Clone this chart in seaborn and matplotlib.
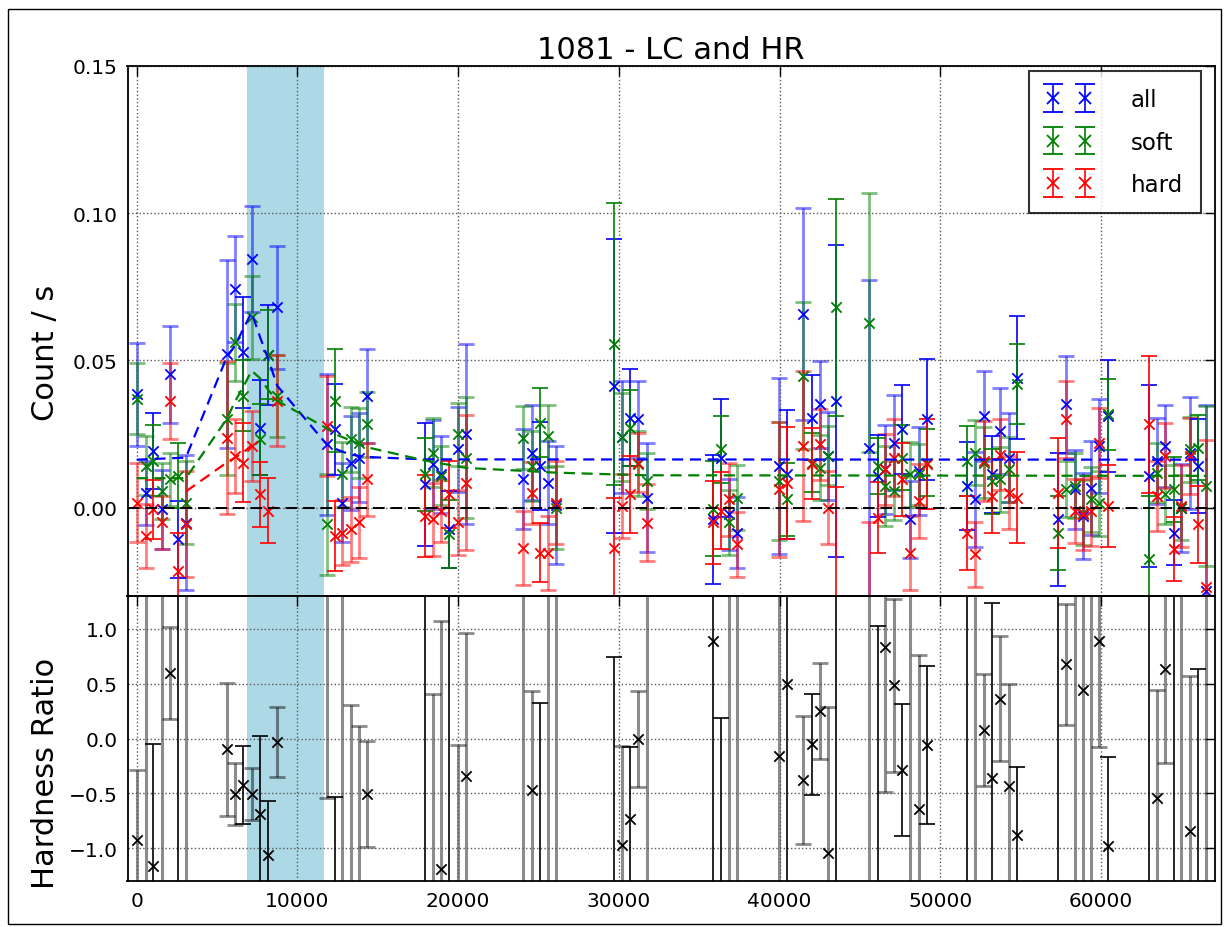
import numpy as np
import matplotlib
matplotlib.use("Agg")
import matplotlib.pyplot as plt
import seaborn as sns
from matplotlib.patches import Rectangle
from matplotlib.legend_handler import HandlerErrorbar

# ---------------- data ----------------
t = [0, 550, 1030, 1550, 2070, 2580, 3060,
     5595, 6112, 6630, 7150, 7670, 8185, 8745,
     11820, 12336, 12790, 13310, 13830, 14345,
     17940, 18416, 18934, 19450, 19970, 20490,
     24056, 24575, 25094, 25571, 26069,
     29720, 30177, 30695, 31213, 31773,
     35840, 36340, 36860, 37335,
     39930, 40450, 41480, 42000, 42480, 43000, 43520,
     45530, 46090, 46570, 47085, 47610, 48125, 48640, 49165,
     51650, 52170, 52690, 53210, 53720, 54240, 54765,
     57310, 57830, 58350, 58870, 59390, 59890, 60430,
     62960, 63480, 64000, 64510, 64990, 65510, 66030, 66550]

all_rate = [0.0385, 0.005, 0.0193, -0.0006, 0.0453, -0.0108, -0.0051,
            0.0522, 0.0743, 0.0527, 0.0845, 0.0272, 0.052, 0.068,
            0.0215, 0.0266, 0.0017, 0.0153, 0.017, 0.038,
            0.0079, 0.0147, 0.0113, -0.0074, 0.0198, 0.025,
            0.0096, 0.0187, 0.0142, 0.0085, 0.001,
            0.0414, 0.024, 0.0306, 0.030, 0.0034,
            -0.004, 0.017, -0.0023, -0.0085,
            0.0142, 0.0113, 0.0658, 0.0306, 0.0351, 0.0176, 0.0363,
            0.0203, 0.0108, 0.013, 0.0221, 0.0266, -0.004, 0.0125, 0.030,
            0.0074, 0.0028, 0.0312, 0.0113, 0.026, 0.017, 0.0442,
            -0.004, 0.0351, 0.0062, -0.0028, 0.0068, 0.021, 0.031,
            0.0108, 0.0159, 0.021, -0.0085, 0.0, 0.0187, 0.0142, -0.0283]
all_err = [0.0175, 0.011, 0.013, 0.0133, 0.0165, 0.013, 0.023,
           0.032, 0.018, 0.019, 0.018, 0.016, 0.017, 0.021,
           0.024, 0.0155, 0.0135, 0.016, 0.015, 0.016,
           0.021, 0.015, 0.013, 0.013, 0.0145, 0.0306,
           0.017, 0.016, 0.015, 0.014, 0.02,
           0.05, 0.019, 0.0165, 0.013, 0.0185,
           0.022, 0.02, 0.012, 0.012,
           0.03, 0.022, 0.036, 0.0144, 0.0147, 0.015, 0.053,
           0.057, 0.014, 0.015, 0.016, 0.015, 0.013, 0.015, 0.0205,
           0.015, 0.016, 0.0153, 0.013, 0.0145, 0.015, 0.021,
           0.0225, 0.0165, 0.0135, 0.0145, 0.016, 0.016, 0.019,
           0.031, 0.0145, 0.014, 0.011, 0.015, 0.019, 0.016, 0.063]

soft_rate = [0.037, 0.0142, 0.016, 0.0057, 0.0096, 0.0108, 0.0017,
             0.030, 0.0561, 0.038, 0.0646, 0.0232, 0.052, 0.038,
             -0.0057, 0.0363, 0.0113, 0.0232, 0.022, 0.0283,
             0.0113, 0.0187, 0.0108, -0.009, 0.025, 0.017,
             0.0238, 0.0142, 0.0289, 0.0244, 0.0,
             0.0556, 0.024, 0.027, 0.015, 0.009,
             -0.0003, 0.0198, -0.005, 0.0034,
             0.009, 0.0028, 0.0448, 0.0153, 0.0136, 0.0176, 0.068,
             0.0628, 0.0142, 0.0074, 0.0057, 0.017, 0.0113, 0.0113, 0.0153,
             0.0159, 0.0187, 0.0153, 0.009, 0.0096, 0.013, 0.042,
             -0.0085, 0.0062, 0.0074, -0.0017, 0.0028, 0.0015, 0.0317,
             -0.0176, 0.0119, 0.0045, 0.0062, 0.0, 0.0198, 0.0204, 0.0074]
soft_err = [0.012, 0.01, 0.012, 0.0096, 0.009, 0.011, 0.014,
            0.019, 0.013, 0.012, 0.014, 0.012, 0.015, 0.014,
            0.017, 0.0175, 0.011, 0.011, 0.012, 0.011,
            0.0125, 0.0116, 0.010, 0.0115, 0.0107, 0.0205,
            0.0107, 0.012, 0.0117, 0.0105, 0.014,
            0.048, 0.015, 0.013, 0.011, 0.0095,
            0.016, 0.0113, 0.011, 0.011,
            0.02, 0.0125, 0.025, 0.01, 0.011, 0.01, 0.037,
            0.044, 0.0095, 0.0135, 0.01, 0.011, 0.011, 0.0103, 0.0115,
            0.012, 0.011, 0.012, 0.011, 0.011, 0.011, 0.0135,
            0.0125, 0.0095, 0.011, 0.011, 0.011, 0.011, 0.012,
            0.0216, 0.01, 0.01, 0.011, 0.011, 0.011, 0.011, 0.0272]

hard_rate = [0.0017, -0.0096, -0.0006, -0.005, 0.0363, -0.0215, -0.0057,
             0.0238, 0.0176, 0.0153, 0.021, 0.0045, -0.001, 0.0363,
             0.0278, -0.0096, -0.0085, -0.0074, -0.005, 0.0096,
             -0.0028, -0.004, -0.0011, 0.0045, -0.005, 0.0085,
             -0.0136, 0.0051, -0.0153, -0.0153, 0.0017,
             -0.0136, 0.0006, 0.0045, 0.0153, -0.0051,
             -0.005, -0.001, 0.0028, -0.0125,
             0.0062, 0.0085, 0.021, 0.015, 0.0215, 0.0, -0.035,
             -0.045, -0.0034, 0.013, 0.017, 0.0096, -0.0153, 0.0023, 0.0147,
             -0.0085, -0.0159, 0.0159, 0.004, 0.018, 0.0051, 0.0034,
             0.0051, 0.030, -0.0011, -0.0023, -0.0011, 0.022, 0.0006,
             0.0283, 0.004, 0.0176, -0.014, 0.0006, 0.0176, -0.0057, -0.027]
hard_err = [0.0135, 0.011, 0.01, 0.009, 0.013, 0.013, 0.018,
            0.026, 0.0125, 0.0135, 0.012, 0.011, 0.011, 0.0155,
            0.017, 0.012, 0.011, 0.011, 0.012, 0.0125,
            0.014, 0.0125, 0.0105, 0.0113, 0.011, 0.023,
            0.0125, 0.0105, 0.010, 0.0125, 0.014,
            0.017, 0.011, 0.013, 0.01, 0.013,
            0.014, 0.013, 0.0125, 0.011,
            0.023, 0.019, 0.0255, 0.012, 0.012, 0.0125, 0.042,
            0.04, 0.012, 0.012, 0.013, 0.0125, 0.0125, 0.0125, 0.0153,
            0.0125, 0.011, 0.0135, 0.0125, 0.012, 0.0125, 0.0155,
            0.0187, 0.013, 0.011, 0.012, 0.012, 0.012, 0.014,
            0.0233, 0.012, 0.011, 0.011, 0.014, 0.013, 0.013, 0.05]

hr = [-0.924, -3, -1.167, -3, 0.597, -3, -3,
      -0.10, -0.506, -0.424, -0.506, -0.688, -1.067, -0.03,
      1.5, -1.72, -3, -1.94, -1.59, -0.506,
      -3, -1.43, -1.19, -3, -1.5, -0.342,
      -3, -0.47, -2.06, -3, 3,
      -1.65, -0.97, -0.73, -0.003, -3,
      0.888, -1.4, -3, -3,
      -0.158, 0.5, -0.379, -0.052, 0.252, -1.045, -3,
      -3, -1.39, 0.833, 0.485, -0.288, -3, -0.642, -0.06,
      -3, -3, 0.076, -0.364, 0.364, -0.433, -0.879,
      -3, 0.676, -3, 0.445, -3, 0.894, -0.985,
      -3, -0.545, 0.63, -3, -3, -0.848, -1.77, -3]
hr_err = [0.636, 9, 1.12, 9, 0.42, 9, 9,
          0.61, 0.28, 0.36, 0.24, 0.71, 0.5, 0.32,
          2.045, 1.19, 9, 2.25, 1.7, 0.48,
          9, 1.84, 2.26, 9, 1.44, 1.3,
          9, 0.9, 2.38, 9, 9,
          2.39, 0.906, 0.65, 0.44, 9,
          9, 1.59, 9, 9,
          9, 9, 0.58, 0.46, 0.44, 1.33, 9,
          9, 2.42, 1.32, 0.79, 0.6, 9, 1.4, 0.72,
          9, 9, 0.51, 1.6, 0.57, 0.93, 0.62,
          9, 0.55, 9, 9, 9, 0.976, 0.82,
          9, 0.985, 0.85, 9, 9, 1.415, 2.4, 9]

# 1 = strong (drawn dark), 0 = weak (drawn faint)
weight = [0, 0, 1, 0, 0, 1, 0,
          0, 0, 1, 0, 1, 1, 0,
          0, 1, 0, 0, 0, 0,
          1, 0, 0, 1, 0, 0,
          0, 0, 1, 0, 0,
          1, 0, 1, 0, 0,
          1, 1, 0, 0,
          0, 1, 0, 1, 0, 0, 1,
          0, 1, 0, 0, 1, 0, 0, 1,
          1, 0, 0, 1, 0, 0, 1,
          1, 0, 0, 0, 0, 0, 1,
          1, 0, 0, 1, 0, 0, 1, 0]

model_t_all = [0, 3060, 5595, 6112, 6630, 7150, 7670, 8185, 8745, 11820, 12336,
               13310, 14345, 17940, 66550]
model_all = [0.0163, 0.0170, 0.051, 0.055, 0.0607, 0.0663, 0.058, 0.0505, 0.0414,
             0.0215, 0.020, 0.018, 0.0172, 0.0164, 0.0163]
model_t_soft = [0, 3060, 5595, 6112, 6630, 7150, 7670, 8185, 8745, 11820, 12336,
                14345, 17940, 20490, 24056, 26069, 29720, 31773, 66550]
model_soft = [0.0100, 0.0100, 0.030, 0.036, 0.041, 0.0465, 0.044, 0.040, 0.0363,
              0.027, 0.025, 0.0205, 0.0160, 0.0135, 0.0125, 0.0119, 0.0113, 0.0110, 0.0108]
model_t_hard = [3060, 5595, 6112, 6630, 7150]
model_hard = [0.0055, 0.0153, 0.017, 0.0187, 0.0212]

band = (6840, 11650)
series_names = ["all", "soft", "hard"]

# ---------------- style ----------------
sns.set_style("white")
plt.rcParams["font.family"] = ["DejaVu Sans"]
plt.rcParams["text.color"] = "black"
plt.rcParams["axes.labelcolor"] = "black"
plt.rcParams["xtick.color"] = "black"
plt.rcParams["ytick.color"] = "black"
plt.rcParams["xtick.direction"] = "in"
plt.rcParams["ytick.direction"] = "in"

W, H = 1226, 928
fig = plt.figure(figsize=(W / 100, H / 100), dpi=100)
fig.patch.set_facecolor("white")
L, R = 127.5, 1214.5
ax1 = fig.add_axes([L / W, 1 - 597 / H, (R - L) / W, 530 / H])
ax2 = fig.add_axes([L / W, 1 - 882 / H, (R - L) / W, 285 / H], sharex=ax1)

t_arr = np.array(t)
w_arr = np.array(weight).astype(bool)

colors = {"all": "blue", "soft": "green", "hard": "red"}
rates = {"all": (all_rate, all_err), "soft": (soft_rate, soft_err), "hard": (hard_rate, hard_err)}

for ax in (ax1, ax2):
    ax.axvspan(band[0], band[1], color="lightblue", zorder=0, lw=0)

handles = []
for name in series_names:
    c = colors[name]
    y, e = (np.array(v) for v in rates[name])
    ax1.errorbar(t_arr[~w_arr], y[~w_arr], yerr=e[~w_arr], fmt="none", ecolor=c,
                 alpha=0.5, elinewidth=2.0, capsize=6, capthick=2.0, zorder=2)
    ax1.errorbar(t_arr[w_arr], y[w_arr], yerr=e[w_arr], fmt="none", ecolor=c,
                 alpha=1.0, elinewidth=1.2, capsize=6, capthick=1.2, zorder=3)
    sns.scatterplot(x=t_arr, y=y, marker="x", color=c, s=55, linewidth=1.3,
                    ax=ax1, zorder=4, legend=False)
    h = ax1.errorbar([-1e6], [0], yerr=[0.01], fmt="x", color=c, ecolor=c,
                     markersize=9, mew=1.3, elinewidth=1.2, capsize=7, label=name)
    handles.append(h)

for mt, mv, c in ((model_t_all, model_all, "blue"), (model_t_soft, model_soft, "green"),
                  (model_t_hard, model_hard, "red")):
    sns.lineplot(x=mt, y=mv, color=c, linestyle="--", linewidth=1.6, ax=ax1,
                 zorder=5, estimator=None, sort=False)
    ax1.lines[-1].set_dashes((5, 3))

ax1.axhline(0, color="black", linestyle="--", linewidth=1.4, zorder=6, dashes=(6, 3))

# hardness ratio
hr_a, hre_a = np.array(hr), np.array(hr_err)
ax2.errorbar(t_arr[~w_arr], hr_a[~w_arr], yerr=hre_a[~w_arr], fmt="none", ecolor="black",
             alpha=0.45, elinewidth=2.2, capsize=6, capthick=2.0, zorder=2)
ax2.errorbar(t_arr[w_arr], hr_a[w_arr], yerr=hre_a[w_arr], fmt="none", ecolor="black",
             alpha=1.0, elinewidth=1.2, capsize=6, capthick=1.2, zorder=3)
sns.scatterplot(x=t_arr, y=hr_a, marker="x", color="black", s=55, linewidth=1.3,
                ax=ax2, zorder=4, legend=False)

# axes formatting
ax1.set_xlim(-570, 67050)
ax1.set_ylim(-0.03, 0.15)
ax1.set_yticks([0.0, 0.05, 0.10, 0.15])
ax1.set_yticklabels(["0.00", "0.05", "0.10", "0.15"])
ax2.set_ylim(-1.3, 1.3)
ax2.set_yticks([-1.0, -0.5, 0.0, 0.5, 1.0])
ax2.set_yticklabels(["\u22121.0", "\u22120.5", "0.0", "0.5", "1.0"])
ax2.set_xticks([0, 10000, 20000, 30000, 40000, 50000, 60000])
ax2.set_xticklabels(["0", "10000", "20000", "30000", "40000", "50000", "60000"])
plt.setp(ax1.get_xticklabels(), visible=False)

for ax in (ax1, ax2):
    ax.grid(True, linestyle=":", color="0.35", linewidth=1.0)
    ax.set_axisbelow(False)
    for sp in ax.spines.values():
        sp.set_color("black")
        sp.set_linewidth(1.3)
        sp.set_zorder(10)
    ax.tick_params(axis="both", which="major", direction="in", length=7, width=1,
                   top=True, right=True, labelsize=14.5, pad=7, color="black",
                   labelcolor="black")
    ax.set_facecolor("none")
    for gl in ax.get_xgridlines() + ax.get_ygridlines():
        gl.set_zorder(1)

ax1.set_ylabel("Count / s", fontsize=22, color="black")
ax2.set_ylabel("Hardness Ratio", fontsize=22, color="black")
ax1.yaxis.set_label_coords(-0.062, 0.46)
ax2.yaxis.set_label_coords(-0.062, 0.38)
ax1.set_title("1081 - LC and HR", fontsize=22, pad=6, color="black")

leg = ax1.legend(handles=handles, labels=series_names, numpoints=2, loc="upper right",
                 bbox_to_anchor=(1 - 14 / 1087, 1 - 5 / 530), borderaxespad=0,
                 fontsize=16.5, frameon=True, fancybox=False, handlelength=2.0,
                 handletextpad=1.7, labelspacing=0.85, borderpad=0.75,
                 handler_map={type(handles[0]): HandlerErrorbar(yerr_size=0.6)})
leg.get_frame().set_edgecolor("black")
leg.get_frame().set_linewidth(1.5)
leg.set_zorder(20)
for txt in leg.get_texts():
    txt.set_color("black")

fig.patches.append(Rectangle((8 / W, 3 / H), 1213 / W, 915 / H, transform=fig.transFigure,
                             fill=False, edgecolor="black", linewidth=1.0))

fig.savefig("out.png", dpi=100, facecolor="white")
